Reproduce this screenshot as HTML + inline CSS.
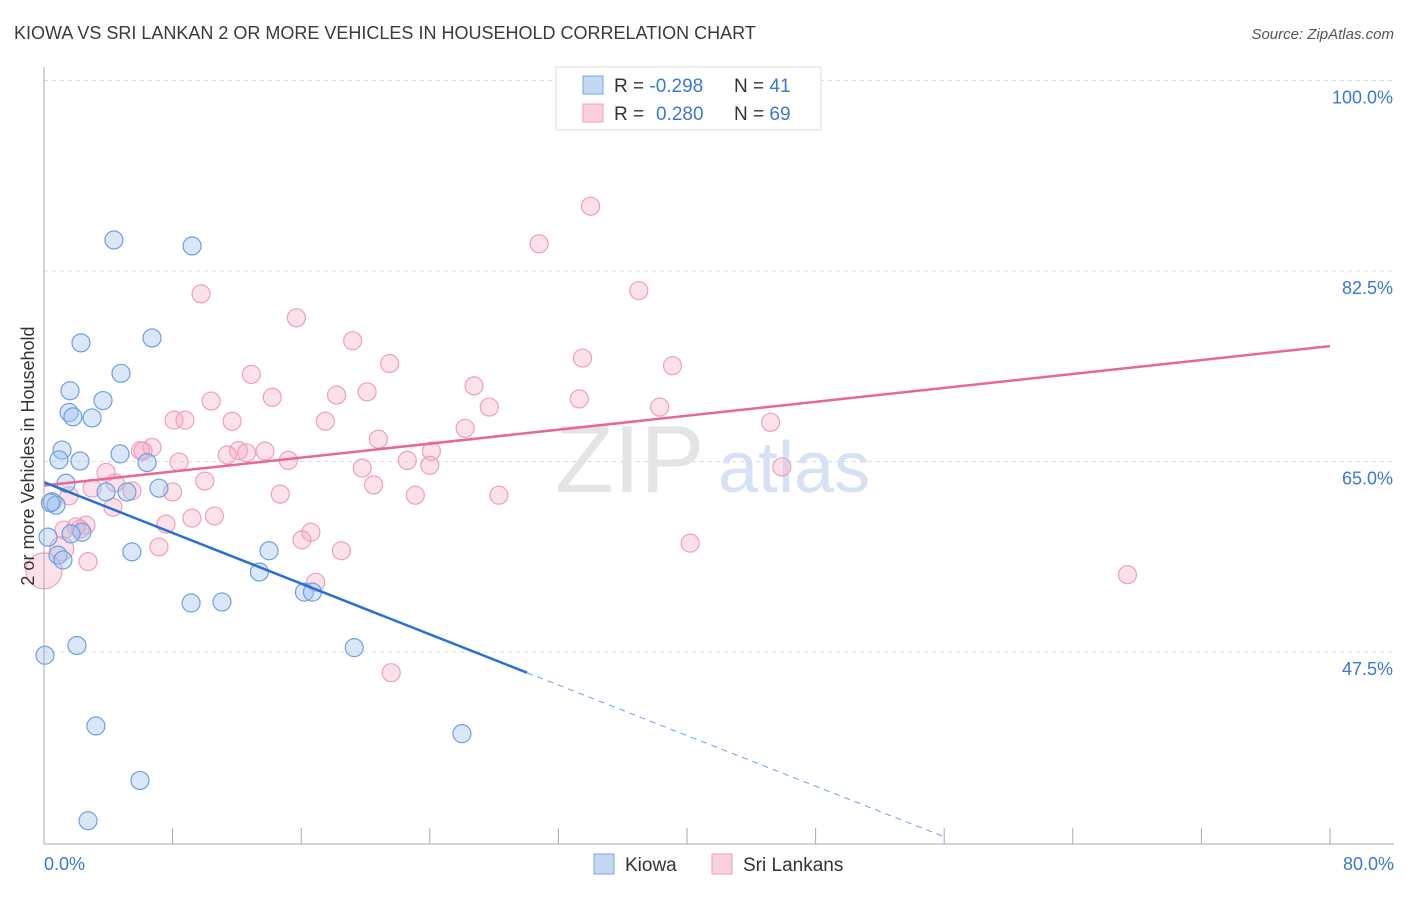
<!DOCTYPE html>
<html><head><meta charset="utf-8"><style>
body{margin:0;background:#fff;font-family:"Liberation Sans",sans-serif}
svg text{font-family:"Liberation Sans",sans-serif}
</style></head><body>
<svg width="1406" height="892" viewBox="0 0 1406 892">
<text x="14" y="39" font-size="18" fill="#3a3a3a">KIOWA VS SRI LANKAN 2 OR MORE VEHICLES IN HOUSEHOLD CORRELATION CHART</text>
<text x="1394" y="39" font-size="15" fill="#555" text-anchor="end" font-style="italic">Source: ZipAtlas.com</text>
<g id="grid"></g>
<g><text x="555" y="492" font-size="96" font-family="Liberation Serif" fill="#e4e4e4">ZIP</text><text x="718" y="492" font-size="72" fill="#d6e2f3">atlas</text></g>
<g id="pts"></g>
<g id="trend"></g>
<g id="axes"></g>
<text transform="translate(34,456) rotate(-90)" font-size="18" fill="#333" text-anchor="middle">2 or more Vehicles in Household</text>
<g>
<rect x="556" y="67" width="265" height="63" fill="#fff" stroke="#ddd"/>
<rect x="583" y="76" width="20" height="18" fill="#c4d8f5" stroke="#7aa6e0"/>
<rect x="583" y="104" width="20" height="18" fill="#fbd0dc" stroke="#eea0b8"/>
<text x="614" y="92" font-size="19" fill="#333">R = <tspan fill="#3a78d4">-0.298</tspan><tspan x="734">N = </tspan><tspan fill="#3a78d4">41</tspan></text>
<text x="614" y="120" font-size="19" fill="#333">R = <tspan fill="#3a78d4" x="656">0.280</tspan><tspan x="734">N = </tspan><tspan fill="#3a78d4">69</tspan></text>
</g>
<g>
<rect x="594" y="854" width="20" height="20" fill="#c4d8f5" stroke="#7aa6e0"/>
<text x="625" y="871" font-size="19" fill="#333">Kiowa</text>
<rect x="712" y="854" width="20" height="20" fill="#fbd0dc" stroke="#eea0b8"/>
<text x="743" y="871" font-size="19" fill="#333">Sri Lankans</text>
</g>
</svg>
<script>
const yTicks=[100,82.5,65,47.5];
const yTickLabels=["100.0%","82.5%","65.0%","47.5%"];
const xEnds=["0.0%","80.0%"];
const kiowaX=[4.35,9.21,6.72,2.30,4.79,1.62,3.67,1.56,1.80,2.99,1.12,0.93,2.24,4.73,6.41,1.37,7.15,3.86,5.16,0.50,0.75,0.25,2.36,1.68,0.87,1.18,5.47,14.0,13.4,16.2,16.7,9.15,11.07,0.06,2.05,19.3,3.23,26.0,5.97,2.74,0.4];
const kiowaY=[85.35,84.8,76.35,75.9,73.1,71.5,70.6,69.5,69.1,69.0,66.05,65.15,65.05,65.7,64.9,63.0,62.55,62.2,62.2,61.3,61.0,58.05,58.5,58.35,56.4,55.95,56.7,56.8,54.85,53.0,53.0,52.0,52.1,47.2,48.1,47.9,40.7,40.0,35.7,32.0,61.2];
const lankaX=[34.0,30.8,9.77,37.0,15.7,19.2,33.5,39.1,21.5,12.9,26.75,20.1,18.2,14.2,10.4,33.3,27.7,38.3,8.09,8.77,11.7,17.5,45.2,26.2,20.8,6.72,6.16,12.1,13.75,11.4,12.6,24.1,8.4,15.2,22.6,24.0,19.8,45.9,3.86,10.0,20.5,4.42,2.99,5.47,1.56,14.7,23.1,28.3,4.29,10.6,9.2,7.59,2.61,2.24,1.24,16.6,16.05,40.2,7.15,18.5,2.74,67.4,16.9,21.6,0.0,1.1,2.0,6.0,8.0];
const lankaY=[88.45,85.0,80.4,80.7,78.2,76.1,74.5,73.8,74.0,73.0,71.95,71.4,71.1,70.9,70.55,70.75,70.0,70.0,68.8,68.8,68.7,68.7,68.6,68.05,67.05,66.3,65.95,66.0,65.95,65.6,65.8,65.95,64.95,65.1,65.1,64.65,64.4,64.5,64.0,63.2,62.85,63.05,62.55,62.3,61.85,62.0,61.9,61.9,60.8,60.0,59.8,59.25,59.15,58.8,58.7,58.5,57.8,57.5,57.15,56.8,55.8,54.6,53.9,45.6,54.95,57.0,59.0,66.0,62.2];
const lankaR=[9,9,9,9,9,9,9,9,9,9,9,9,9,9,9,9,9,9,9,9,9,9,9,9,9,9,9,9,9,9,9,9,9,9,9,9,9,9,9,9,9,9,9,9,9,9,9,9,9,9,9,9,9,9,9,9,9,9,9,9,9,9,9,9,18,12,9,9,9];
const kiowaTrend=[[0,63.1],[30.05,45.6]];
const kiowaDash=[[30.05,45.6],[56.05,30.5]];
const lankaTrend=[[0,62.8],[80,75.6]];
const X0=44,X1=1330,Y100=80.5,YPER=190.5/17.5;
const sx=v=>X0+(v/80)*(X1-X0);
const sy=v=>Y100+(100-v)*YPER;
const NS="http://www.w3.org/2000/svg";
function mk(tag,attrs,parent){const e=document.createElementNS(NS,tag);for(const k in attrs)e.setAttribute(k,attrs[k]);parent.appendChild(e);return e;}
const grid=document.getElementById('grid'),axes=document.getElementById('axes'),pts=document.getElementById('pts'),trend=document.getElementById('trend');
yTicks.forEach((t,i)=>{
 const l=mk('line',{x1:X0,x2:1394,y1:sy(t),y2:sy(t),stroke:'#dcdcdc','stroke-dasharray':'4,4'},grid);
 
 
 const tx=mk('text',{x:1393,y:sy(t)+23,'font-size':18,fill:'#3a78d4','text-anchor':'end'},axes);
 tx.textContent=yTickLabels[i];
 
 
});
const ya=mk('line',{x1:X0,x2:X0,y1:67,y2:844,stroke:'#aaa'},axes);


const xa=mk('line',{x1:X0,x2:1394,y1:844,y2:844,stroke:'#aaa'},axes);


for(let i=0;i<=10;i++){const t=mk('line',{x1:sx(i*8),x2:sx(i*8),y1:828,y2:844,stroke:'#aaa'},axes);
 
 }
[[0,'start'],[80,'end']].forEach((p,i)=>{const t=mk('text',{x:i?1394:44,y:870,'font-size':18,fill:'#3a78d4','text-anchor':p[1]},axes);t.textContent=xEnds[i];
 
 });
lankaX.forEach((x,i)=>{const c=mk('circle',{cx:sx(x),cy:sy(lankaY[i]),r:lankaR[i],fill:'rgba(246,170,195,0.35)',stroke:'#eea0b8','stroke-width':1.2},pts);
 
 });
kiowaX.forEach((x,i)=>{const c=mk('circle',{cx:sx(x),cy:sy(kiowaY[i]),r:9,fill:'rgba(160,195,240,0.4)',stroke:'#6f9fe0','stroke-width':1.2},pts);
 
 });
function ln(seg,col,w,dash,name){const l=mk('line',{x1:sx(seg[0][0]),y1:sy(seg[0][1]),x2:sx(seg[1][0]),y2:sy(seg[1][1]),stroke:col,'stroke-width':w},trend);if(dash)l.setAttribute('stroke-dasharray',dash);
 
 }
ln(lankaTrend,'#e8688f',2.5,null,'srilankan-trend-line');
ln(kiowaTrend,'#2a6fd6',2.5,null,'kiowa-trend-line');
ln(kiowaDash,'#6f9fe0',1,'6,5','kiowa-trend-extension');
</script>
</body></html>
